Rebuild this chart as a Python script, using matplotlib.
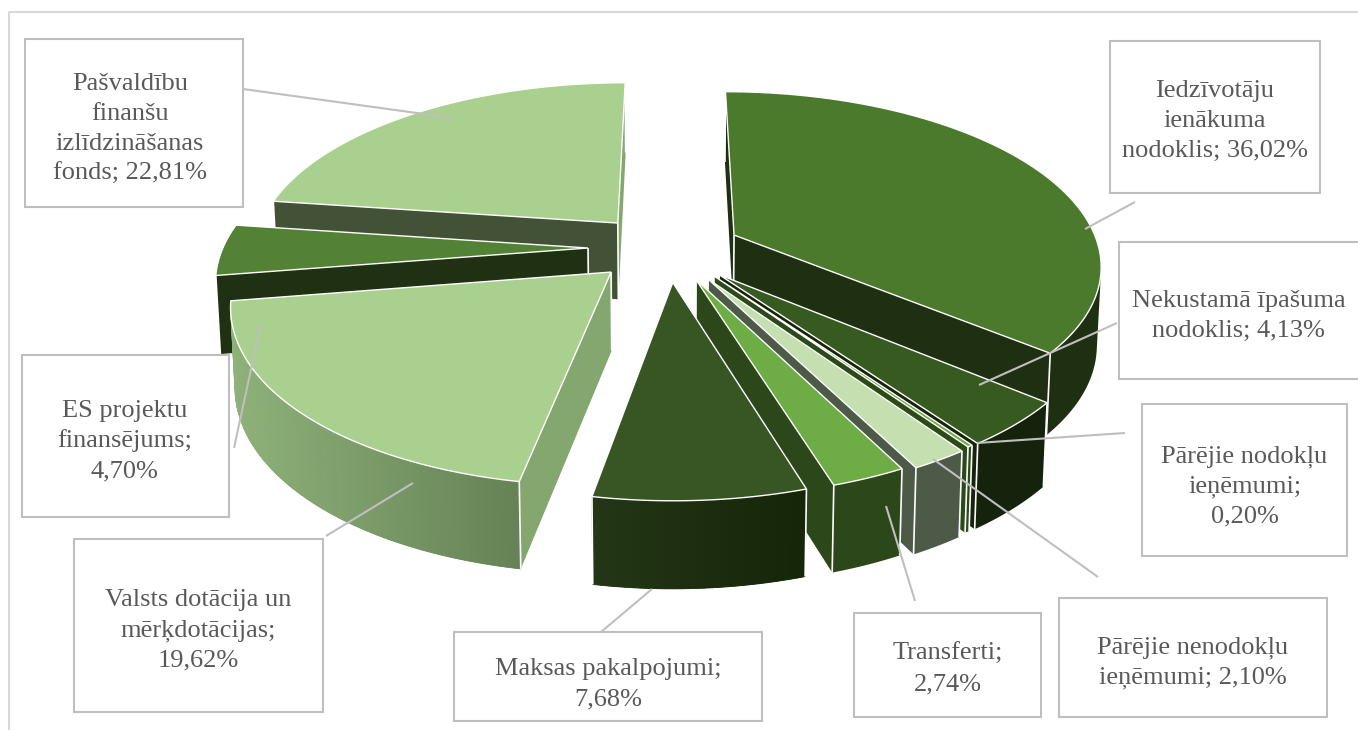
import numpy as np
import matplotlib
matplotlib.use('Agg')
import matplotlib.pyplot as plt
from matplotlib.colors import to_rgb
from matplotlib.patches import Polygon, Rectangle

# chart data, clockwise from 12 o'clock
categories = ['Iedzīvotāju\nienākuma\nnodoklis', 'Nekustamā īpašuma\nnodoklis',
              'Pārējie nodokļu\nieņēmumi', 'Pārējie nenodokļu\nieņēmumi', 'Transferti',
              'Maksas pakalpojumi', 'Valsts dotācija un\nmērķdotācijas',
              'ES projektu\nfinansējums', 'Pašvaldību\nfinanšu\nizlīdzināšanas\nfonds']
shares = [36.02, 4.13, 0.20, 2.10, 2.74, 7.68, 19.62, 4.70, 22.81]
label_texts = ['Iedzīvotāju\nienākuma\nnodoklis; 36,02%', 'Nekustamā īpašuma\nnodoklis; 4,13%',
               'Pārējie nodokļu\nieņēmumi;\n0,20%', 'Pārējie nenodokļu\nieņēmumi; 2,10%',
               'Transferti;\n2,74%', 'Maksas pakalpojumi;\n7,68%',
               'Valsts dotācija un\nmērķdotācijas;\n19,62%', 'ES projektu\nfinansējums;\n4,70%',
               'Pašvaldību\nfinanšu\nizlīdzināšanas\nfonds; 22,81%']

# slice styling
top_colors = ['#4C7A2C', '#375A20', '#70AD47', '#C5DFB1', '#6EAC46', '#375623', '#A9D08E', '#538135', '#A9D08E']
cut_start = ['#1F2F12', '#16240C', '#2B4A18', '#4D5A48', '#2C4719', '#233616', '#84A66F', '#203012', '#435237']
cut_end = ['#1F2F12', '#16240C', '#2B4A18', '#4D5A48', '#2C4719', '#233616', '#84A66F', '#203012', '#84A66F']
wall_left = ['#1F3012', '#16230C', '#2B4A18', '#4D5A48', '#2C4719', '#233616', '#8FB27A', '#203012', '#435237']
wall_right = ['#1F3012', '#16230C', '#2B4A18', '#4D5A48', '#2C4719', '#162609', '#668256', '#203012', '#435237']
explode_x = [0.172, 0.126, 0.112, 0.096, 0.064, 0.002, -0.163, -0.230, -0.152]
explode_y = [0.158, -0.072, -0.079, -0.096, -0.100, -0.115, -0.057, 0.081, 0.231]
draw_order = [8, 7, 6, 0, 1, 2, 3, 4, 5]

# label boxes: left, top, right, bottom in pixels
boxes = [(1110, 41, 1320, 193), (1119, 242, 1362, 379), (1142, 404, 1347, 556), (1059, 598, 1327, 717),
         (854, 613, 1041, 717), (454, 632, 762, 721), (74, 539, 323, 712), (22, 355, 229, 517), (25, 39, 243, 207)]
text_dx = [0, 0, 0, 0, 0, 0, 0, -1, -4]
text_dy = [1, 2.5, 3, 2, 1, 4.5, 1.5, 2, 2.5]
line_pitch = 30
leaders = [((1135, 202), (1085, 229)), ((1117, 323), (979, 385)), ((1125, 433), (977, 443)),
           ((1098, 577), (933, 459)), ((915, 601), (886, 506)), ((601, 632), (652, 589)),
           ((326, 536), (413, 483)), ((234, 448), (261, 323)), ((243, 89), (453, 118))]

# pie projection
cx, cy = 672, 262
rx, ry = 370, 175
persp = 0.164
depth = 78


def project(u, v):
    w = 1 / (1 + persp * v)
    sx = cx + rx * u * w
    sy = cy - ry * v * w
    bx = cx + (sx - cx) * 0.99
    by = sy + depth * w ** 0.6
    return (sx, sy), (bx, by)


def mix(c1, c2, t):
    a, b = np.array(to_rgb(c1)), np.array(to_rgb(c2))
    return tuple(a + (b - a) * t)


fig = plt.figure(figsize=(13.58, 7.3), dpi=100)
ax = fig.add_axes([0, 0, 1, 1])
ax.set_xlim(0, 1358)
ax.set_ylim(730, 0)
ax.axis('off')

# chart frame
ax.plot([8.5, 8.5, 1358], [730, 11.5, 11.5], color='#D9D9D9', lw=1.5, zorder=1)

edges = np.cumsum([0] + shares) / sum(shares) * 2 * np.pi
z = 2
for i in draw_order:
    n = max(int(np.degrees(edges[i + 1] - edges[i])), 2)
    angles = np.linspace(edges[i], edges[i + 1], n + 1)
    ex, ey = explode_x[i], explode_y[i]
    apex_t, apex_b = project(ex, ey)
    ring = [project(np.sin(a) + ex, np.cos(a) + ey) for a in angles]
    tops = [apex_t] + [r[0] for r in ring] + [apex_t]
    bots = [apex_b] + [r[1] for r in ring] + [apex_b]

    visible = []
    for j in range(len(tops) - 1):
        quad = np.array([tops[j], tops[j + 1], bots[j + 1], bots[j]])
        x, y = quad[:, 0], quad[:, 1]
        area = np.sum(x * np.roll(y, -1) - np.roll(x, -1) * y)
        visible.append(area < 0)

    last = len(tops) - 2
    wall = [j for j in range(1, last) if visible[j]]
    for j in (0, last):
        if visible[j]:
            c = cut_start[i] if j == 0 else cut_end[i]
            quad = [tops[j], tops[j + 1], bots[j + 1], bots[j]]
            ax.add_patch(Polygon(quad, closed=True, facecolor=c, edgecolor='none', zorder=z))
    if wall:
        # the wall in one piece first, so the gradient strips leave no seams
        outline = [tops[j] for j in wall] + [tops[wall[-1] + 1], bots[wall[-1] + 1]] + [bots[j] for j in wall[::-1]]
        base = mix(wall_left[i], wall_right[i], 0.5)
        ax.add_patch(Polygon(outline, closed=True, facecolor=base, edgecolor='none', zorder=z))
        if wall_left[i] != wall_right[i]:
            x0 = min(tops[j][0] for j in wall)
            x1 = max(tops[j][0] for j in wall)
            for j in wall:
                t = np.clip((tops[j][0] - x0) / max(x1 - x0, 1), 0, 1)
                c = mix(wall_left[i], wall_right[i], t)
                quad = [tops[j], tops[j + 1], bots[j + 1], bots[j]]
                ax.add_patch(Polygon(quad, closed=True, facecolor=c, edgecolor=c, lw=0.6, zorder=z))
    z += 1

    # white verticals on the corners of visible faces
    corners = [(0, visible[0] or visible[last]), (1, visible[0] or visible[1]), (last, visible[last] or visible[last - 1])]
    for j, show in corners:
        if show:
            ax.plot([tops[j][0], bots[j][0]], [tops[j][1], bots[j][1]], color='white', lw=1.2,
                    solid_capstyle='butt', zorder=z)
    z += 1
    ax.add_patch(Polygon(tops[:-1], closed=True, facecolor=top_colors[i], edgecolor='white', lw=1.0,
                         joinstyle='miter', zorder=z))
    z += 1

for (p0, p1) in leaders:
    ax.plot([p0[0], p1[0]], [p0[1], p1[1]], color='#BFBFBF', lw=1.5, solid_capstyle='butt', zorder=z)
z += 1

for k, (box, txt) in enumerate(zip(boxes, label_texts)):
    l, t, r, b = box
    ax.add_patch(Rectangle((l, t), r - l, b - t, facecolor='white', edgecolor='#BFBFBF', lw=1.5, zorder=z))
    tx = (l + min(r, 1358)) / 2 + text_dx[k]
    lines = txt.split('\n')
    for m, line in enumerate(lines):
        ty = (t + b) / 2 + text_dy[k] + (m - (len(lines) - 1) / 2) * line_pitch + 9
        ax.text(tx, ty, line, ha='center', va='baseline', family='Liberation Serif',
                fontsize=19.0, color='#595959', zorder=z + 1)

fig.savefig('out.png', dpi=100)
